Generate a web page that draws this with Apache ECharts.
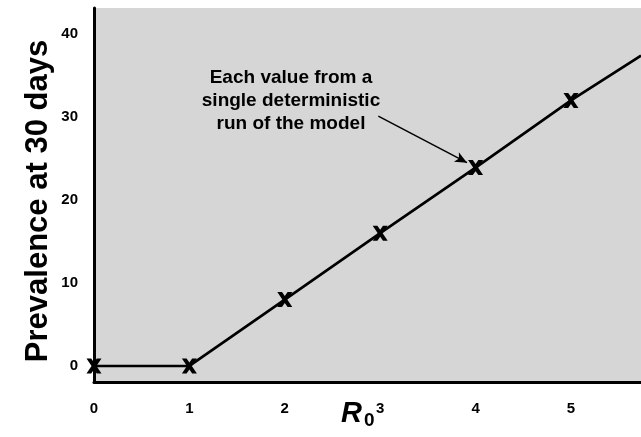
<!DOCTYPE html>
<html>
<head>
<meta charset="utf-8">
<script src="https://cdn.jsdelivr.net/npm/echarts@6/dist/echarts.min.js"></script>
<style>
html,body{margin:0;padding:0;background:#fff;}
#chart{width:641px;height:437px;}
</style>
</head>
<body>
<div id="chart"></div>
<script>
// Marker data: R0 vs prevalence at 30 days
const r0Values = [0, 1, 2, 3, 4, 5];
const prevalence = [0, 0, 8.0, 16.0, 23.9, 32.0];
// Model curve (continues to the edge of the plot)
const curveR0 = [0, 1, 2, 3, 4, 5, 5.734];
const curvePrev = [0, 0, 8.0, 16.0, 23.9, 32.0, 37.4];
// Axis ticks
const xTicks = [0, 1, 2, 3, 4, 5];
const yTicks = [0, 10, 20, 30, 40];
// Titles and annotation
const yTitle = 'Prevalence at 30 days';
const xTitleMain = 'R';
const xTitleSub = '0';
const noteLines = ['Each value from a', 'single deterministic', 'run of the model'];
const arrowFrom = [2.98, 30.1];
const arrowTo = [3.91, 24.5];

const FONT = '"Liberation Sans", Arial, Helvetica, sans-serif';
const X_PATH = 'path://M0,0 L4.4,0 L7,3.7 L9.6,0 L14,0 L9.3,7 L14,14 L9.6,14 L7,10.3 L4.4,14 L0,14 L4.7,7 Z';

const chart = echarts.init(document.getElementById('chart'), null, {renderer: 'canvas'});
chart.setOption({
  animation: false,
  backgroundColor: '#ffffff',
  grid: {
    left: 94, right: 0, top: 8, bottom: 55, show: true,
    backgroundColor: '#d6d6d6', borderWidth: 0,
    containLabel: false, outerBoundsMode: 'none'
  },
  xAxis: {
    type: 'value', min: 0, max: 5.734, interval: 1,
    axisLine: {onZero: false, lineStyle: {color: '#000', width: 3}},
    axisTick: {show: false},
    splitLine: {show: false},
    axisLabel: {
      customValues: xTicks,
      margin: 19, fontSize: 15, fontWeight: 'bold', color: '#000', fontFamily: FONT
    }
  },
  yAxis: {
    type: 'value', min: -1.93, max: 43.13,
    axisLine: {onZero: false, lineStyle: {color: '#000', width: 3}},
    axisTick: {show: false},
    splitLine: {show: false},
    axisLabel: {
      customValues: yTicks,
      margin: 16, fontSize: 15, fontWeight: 'bold', color: '#000', fontFamily: FONT
    }
  },
  graphic: [
    {
      type: 'text', x: 291, y: 66, z: 10,
      style: {
        text: noteLines.join('\n'),
        fontSize: 19, fontWeight: 'bold', fontFamily: FONT, fill: '#000',
        align: 'center', verticalAlign: 'top', lineHeight: 23
      }
    },
    {
      type: 'text', x: 38, y: 201, rotation: Math.PI / 2, z: 10,
      style: {
        text: yTitle,
        fontSize: 31, fontWeight: 'bold', fontFamily: FONT, fill: '#000',
        align: 'center', verticalAlign: 'middle'
      }
    },
    {
      type: 'text', x: 341, y: 399, z: 10,
      style: {
        text: xTitleMain, align: 'left', verticalAlign: 'top',
        fontSize: 29, fontStyle: 'italic', fontWeight: 'bold', fill: '#000', fontFamily: FONT
      }
    },
    {
      type: 'text', x: 364, y: 411, z: 10,
      style: {
        text: xTitleSub, align: 'left', verticalAlign: 'top',
        fontSize: 19, fontWeight: 'bold', fill: '#000', fontFamily: FONT
      }
    }
  ],
  series: [
    {
      type: 'line', data: curveR0.map((x, i) => [x, curvePrev[i]]),
      symbol: 'none', clip: true,
      lineStyle: {color: '#000', width: 2.7},
      markLine: {
        silent: true, symbol: ['none', 'arrow'], symbolSize: [8, 12],
        lineStyle: {color: '#000', width: 1.5, type: 'solid'},
        label: {show: false},
        data: [[{coord: arrowFrom}, {coord: arrowTo}]]
      }
    },
    {
      type: 'scatter', data: r0Values.map((x, i) => [x, prevalence[i]]),
      symbol: X_PATH, symbolSize: [15, 15], itemStyle: {color: '#000', opacity: 1}, z: 5, clip: false
    }
  ]
});
</script>
</body>
</html>
